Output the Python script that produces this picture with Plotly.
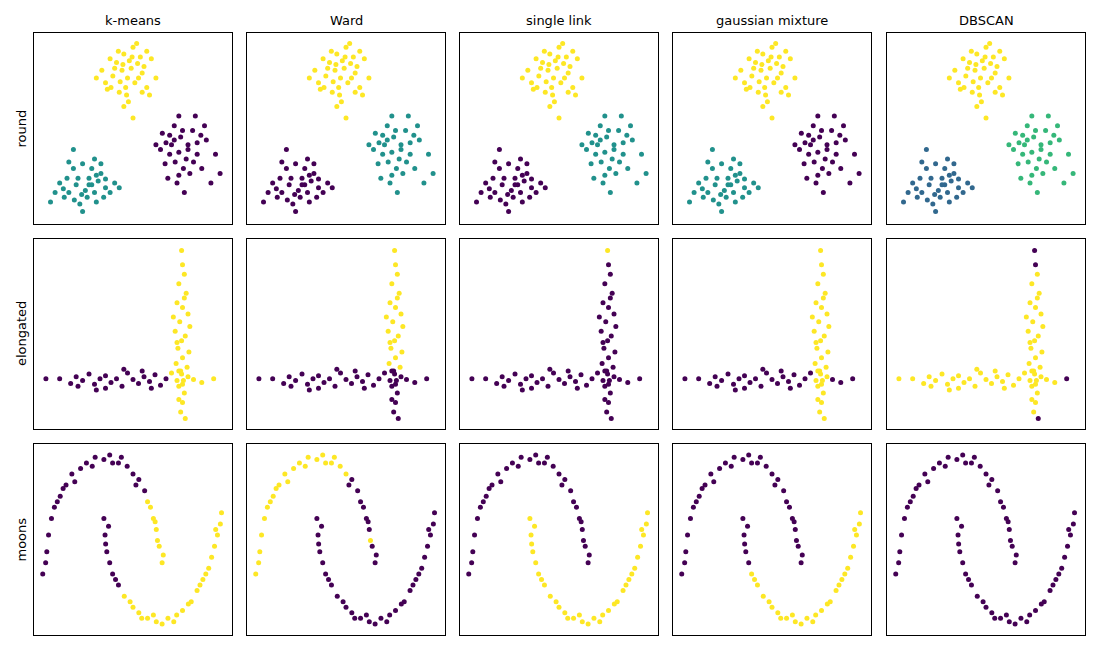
import plotly.graph_objects as go

methods = ["k-means", "Ward", "single link", "gaussian mixture", "DBSCAN"]
rows = ["round", "elongated", "moons"]

PURPLE, BLUE, TEAL, GREEN, YELLOW = "#440154", "#31688e", "#21918c", "#35b779", "#fde725"

# ---- round dataset: three blobs
blob_top = [(94,150),(80,160),(105,165),(90,175),(100,182),(70,145),(115,140),(85,135),(110,155),(75,170),(120,170),(95,125),(60,150),(125,150),(88,158),(102,145),(78,152),(108,172),(92,140),(98,160),(84,178),(112,162),(66,158),(118,132),(90,120),(104,186),(72,138),(96,168),(86,146),(100,108),(82,166),(106,150),(93,132),(115,178),(76,140),(99,172),(89,164),(110,135)]
blob_left = [(55,38),(40,45),(65,50),(30,30),(50,25),(70,35),(45,60),(60,20),(20,40),(80,40),(35,55),(55,55),(48,32),(62,42),(25,25),(75,30),(42,18),(58,65),(15,30),(38,38),(68,25),(52,45),(30,62),(45,10),(85,35),(10,20),(58,30),(35,75),(65,60),(28,45),(44,28),(52,38),(60,48),(36,22),(70,44),(24,34)]
blob_right = [(150,72),(140,90),(160,80),(135,60),(170,70),(145,100),(155,55),(180,85),(130,75),(165,95),(148,40),(175,55),(138,45),(190,70),(158,65),(142,80),(168,110),(125,80),(185,40),(152,88),(162,50),(146,62),(178,100),(132,92),(156,30),(170,82),(140,70),(195,50),(150,110),(160,75),(145,85),(154,95),(136,82),(166,62),(150,48),(174,90)]
# colour of each blob (top, left, right) per method
round_colors = {
    "k-means": (YELLOW, TEAL, PURPLE),
    "Ward": (YELLOW, PURPLE, TEAL),
    "single link": (YELLOW, PURPLE, TEAL),
    "gaussian mixture": (YELLOW, TEAL, PURPLE),
    "DBSCAN": (YELLOW, BLUE, GREEN),
}

# ---- elongated dataset
elong_h = [(5,50),(20,50),(32,45),(38,52),(45,48),(52,55),(58,44),(64,50),(70,53),(76,46),(82,50),(88,42),(94,56),(100,49),(106,45),(112,52),(118,47),(124,54),(130,43),(136,50),(142,56),(148,48),(154,44),(160,52),(166,49),(175,46),(188,50),(60,38),(90,60),(120,40),(110,58),(40,42),(150,58),(70,40)]
elong_v = [(153,185),(154,170),(156,160),(150,150),(158,140),(148,130),(154,125),(160,118),(151,110),(146,100),(157,95),(153,90),(149,82),(161,78),(154,72),(147,66),(159,62),(152,58),(150,42),(156,35),(154,25),(152,15),(157,8),(144,115),(162,105),(148,88),(156,135),(153,55),(155,48),(150,28)]
elong_h_labels = {
    "k-means": "0000000000000000000011111110000010",
    "Ward": "0000000000000000000000000000000000",
    "single link": "0000000000000000000000000000000000",
    "gaussian mixture": "0000000000000000000001110000000010",
    "DBSCAN": "1111111111111111111111111101111111",
}
elong_v_labels = {
    "k-means": "111111111111111111111111111111",
    "Ward": "111111111111111110000001111000",
    "single link": "100000000000000000000000000000",
    "gaussian mixture": "111111111111111111111111111111",
    "DBSCAN": "001111111111111111111101111111",
}

# ---- moons dataset
moon_up = [(-1.0,0.05),(-0.95,0.3),(-0.9,0.45),(-0.85,0.55),(-0.75,0.65),(-0.65,0.75),(-0.55,0.85),(-0.4,0.9),(-0.3,0.95),(-0.15,1.0),(0.0,0.98),(0.1,1.02),(0.25,0.95),(0.4,0.92),(0.5,0.85),(0.6,0.8),(0.7,0.7),(0.8,0.55),(0.85,0.45),(0.9,0.35),(0.95,0.2),(1.0,0.05),(-1.05,-0.05),(-0.98,0.15),(-0.8,0.6),(-0.2,0.92),(0.3,1.0),(0.55,0.75),(0.75,0.6),(0.92,0.25),(-0.5,0.78),(0.15,0.95),(-0.7,0.72),(1.02,0.12),(0.88,0.42)]
moon_low = [(0.0,0.45),(0.02,0.3),(0.05,0.15),(0.1,0.05),(0.15,-0.05),(0.25,-0.15),(0.35,-0.25),(0.5,-0.35),(0.6,-0.4),(0.75,-0.45),(0.9,-0.48),(1.0,-0.5),(1.1,-0.45),(1.25,-0.42),(1.35,-0.38),(1.5,-0.3),(1.6,-0.2),(1.7,-0.1),(1.8,0.0),(1.85,0.1),(1.9,0.2),(1.95,0.3),(2.0,0.4),(2.02,0.5),(0.08,0.38),(0.2,-0.1),(0.45,-0.3),(0.85,-0.42),(1.2,-0.48),(1.45,-0.32),(1.75,-0.05),(1.92,0.35),(0.03,0.22),(0.65,-0.45),(1.65,-0.15)]
moon_up_labels = {
    "k-means": "00000000000000000111110000001100011",
    "Ward": "11111111111111100000001111100111100",
    "single link": "00000000000000000000000000000000000",
    "gaussian mixture": "00000000000000000000000000000000000",
    "DBSCAN": "00000000000000000000000000000000000",
}
moon_low_labels = {
    "k-means": "00000011111111111111111100111111011",
    "Ward": "00000000000000000000000000000000000",
    "single link": "11111111111111111111111111111111111",
    "gaussian mixture": "00001111111111111111111101111111011",
    "DBSCAN": "00000000000000000000000000000000000",
}

col_x = [(34, 232), (247, 445), (460, 658), (673, 871), (887, 1085)]
row_y = [(33, 224), (239, 429), (444, 635)]
W, H = 1100, 650
ranges = [([-8, 208], [-3, 197]), ([-8, 208], [-3, 197]), ([-1.2, 2.2], [-0.6, 1.12])]

fig = go.Figure()
layout = {}
lc = {"0": PURPLE, "1": YELLOW}

for r in range(3):
    for c, m in enumerate(methods):
        k = r * 5 + c + 1
        xa, ya = ("x" if k == 1 else f"x{k}"), ("y" if k == 1 else f"y{k}")
        pts, cols = [], []
        if r == 0:
            for blob, col in zip((blob_top, blob_left, blob_right), round_colors[m]):
                pts += blob
                cols += [col] * len(blob)
        elif r == 1:
            pts = elong_h + elong_v
            cols = [lc[s] for s in elong_h_labels[m] + elong_v_labels[m]]
        else:
            pts = moon_up + moon_low
            cols = [lc[s] for s in moon_up_labels[m] + moon_low_labels[m]]
        fig.add_trace(go.Scatter(x=[p[0] for p in pts], y=[p[1] for p in pts], mode="markers",
                                 marker=dict(color=cols, size=5, line=dict(width=0)),
                                 xaxis=xa, yaxis=ya, showlegend=False, hoverinfo="skip"))
        x0, x1 = col_x[c]
        y0, y1 = row_y[r]
        axs = dict(showticklabels=False, ticks="", showgrid=False, zeroline=False,
                   showline=True, linecolor="black", linewidth=1, mirror=True)
        layout["xaxis" if k == 1 else f"xaxis{k}"] = dict(axs, domain=[x0 / W, x1 / W], range=ranges[r][0], anchor=ya)
        layout["yaxis" if k == 1 else f"yaxis{k}"] = dict(axs, domain=[1 - y1 / H, 1 - y0 / H], range=ranges[r][1], anchor=xa)

annotations = []
for c, m in enumerate(methods):
    annotations.append(dict(text=m, x=(col_x[c][0] + col_x[c][1]) / 2 / W, y=1 - 20 / H, xref="paper", yref="paper",
                            showarrow=False, font=dict(size=13, color="black"), xanchor="center", yanchor="middle"))
for r, name in enumerate(rows):
    annotations.append(dict(text=name, x=21 / W, y=1 - (row_y[r][0] + row_y[r][1]) / 2 / H, xref="paper", yref="paper",
                            showarrow=False, textangle=-90, font=dict(size=13, color="black"), xanchor="center", yanchor="middle"))

fig.update_layout(width=W, height=H, margin=dict(l=0, r=0, t=0, b=0), plot_bgcolor="white", paper_bgcolor="white",
                  font=dict(family="DejaVu Sans"), annotations=annotations, **layout)
fig.write_html("out.html", config={"displayModeBar": False},
               post_script="document.body.style.margin='0';document.body.style.overflow='hidden';")
